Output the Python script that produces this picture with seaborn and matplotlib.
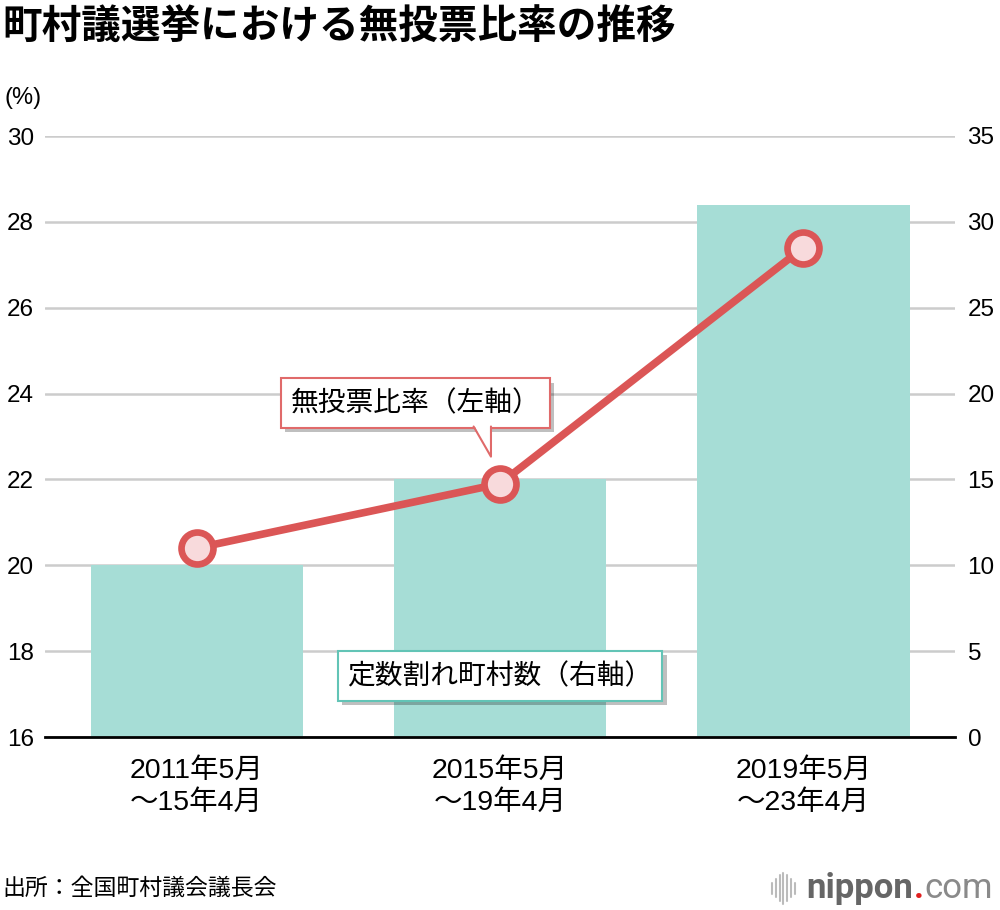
import matplotlib
matplotlib.use('Agg')
import matplotlib.pyplot as plt
import matplotlib.patheffects as pe
import matplotlib.transforms as mtransforms
from matplotlib.lines import Line2D
from matplotlib.patches import Polygon
import seaborn as sns
import pandas as pd

sns.set_theme(style='white')
plt.rcParams['font.family'] = ['Noto Sans CJK JP', 'DejaVu Sans']
num_font = ['Liberation Sans', 'Noto Sans CJK JP']

# data
periods = ['2011年5月\n～15年4月', '2015年5月\n～19年4月', '2019年5月\n～23年4月']
town_counts = [10, 15, 31]          # 定数割れ町村数 (right axis)
uncontested_rate = [20.4, 21.9, 27.4]  # 無投票比率 % (left axis)
left_ticks = [16, 18, 20, 22, 24, 26, 28, 30]
right_ticks = [0, 5, 10, 15, 20, 25, 30, 35]

bar_color = '#a6ddd6'
line_color = '#db5656'
marker_face = '#f8dadc'
red_edge = '#e06a6a'

df = pd.DataFrame({'period': periods, 'count': town_counts, 'rate': uncontested_rate})

fig = plt.figure(figsize=(10, 9.1), dpi=100)
ax = fig.add_axes([0.045, 1 - 737 / 910, 0.91, (737 - 136) / 910])

# bars on the right-hand scale
sns.barplot(data=df, x='period', y='count', ax=ax, color=bar_color,
            saturation=1, width=0.7, linewidth=0, edgecolor=bar_color)
ax.set_ylim(0, 35)
ax.set_axisbelow(True)
ax.yaxis.grid(True, color='#cccccc', lw=1.8)
ax.set_xlabel('')
ax.set_ylabel('')
for s in ['top', 'left', 'right']:
    ax.spines[s].set_visible(False)
ax.spines['bottom'].set_color('black')
ax.spines['bottom'].set_linewidth(2)

# line on the left-hand scale
ax2 = ax.twinx()
sns.pointplot(data=df, x='period', y='rate', ax=ax2, color=line_color,
              markers='o', markersize=23, linewidth=5.5)
for ln in ax2.lines:
    ln.set_markerfacecolor(marker_face)
    ln.set_markeredgecolor(line_color)
    ln.set_markeredgewidth(4.8)
    ln.set_zorder(5)
ax2.set_ylim(16, 30)
ax2.set_xlim(-0.5, 2.5)
ax2.set_xlabel('')
ax2.set_ylabel('')
for s in ['top', 'left', 'right', 'bottom']:
    ax2.spines[s].set_visible(False)
ax2.grid(False)

# twinx moves ticks around, so set sides afterwards
ax.yaxis.tick_right()
ax2.yaxis.tick_left()
ax.tick_params(axis='y', length=0, pad=9, labelcolor='black')
ax.tick_params(axis='x', length=0, pad=15, labelcolor='black')
ax2.tick_params(axis='y', length=0, pad=8, labelcolor='black')
ax.set_yticks(right_ticks, [str(v) for v in right_ticks], family=num_font, fontsize=17.5, ha='left')
ax2.set_yticks(left_ticks, [str(v) for v in left_ticks], family=num_font, fontsize=17.5, ha='right')
ax.set_xticks(range(len(periods)), periods, family=num_font, fontsize=20.5, linespacing=1.3)

# callout for the line (box + pointer tail)
red_box = ax2.annotate('無投票比率（左軸）', xy=(1, uncontested_rate[1]),
                       xytext=(-61, 58), textcoords='offset points',
                       ha='center', va='center', fontsize=20, color='black',
                       bbox=dict(boxstyle='square,pad=0.35', fc='white', ec=red_edge, lw=1.5),
                       zorder=6)
red_box.get_bbox_patch().set_path_effects(
    [pe.withSimplePatchShadow(offset=(3, -3), shadow_rgbFace='black', alpha=0.25)])

# tail vertices in points, relative to the 2015 point
tail_trans = fig.dpi_scale_trans + mtransforms.ScaledTranslation(1, uncontested_rate[1], ax2.transData)
tl, tr, tip_y, top_y = -19 / 72, -6.5 / 72, 19.5 / 72, 41.2 / 72
ax2.add_patch(Polygon([(tl, top_y + 0.01), (tr, top_y + 0.01), (tr, tip_y)], closed=True,
                      fc='white', ec='none', transform=tail_trans, zorder=7, clip_on=False))
ax2.add_line(Line2D([tl, tr, tr], [top_y, tip_y, top_y], color=red_edge, lw=1.5,
                    transform=tail_trans, zorder=7, clip_on=False))

# callout for the bars
teal_box = ax.text(1.0, 3.55, '定数割れ町村数（右軸）', ha='center', va='center',
                   fontsize=20, color='black', zorder=6,
                   bbox=dict(boxstyle='square,pad=0.35', fc='white', ec='#62c4b6', lw=1.5))
teal_box.get_bbox_patch().set_path_effects(
    [pe.withSimplePatchShadow(offset=(3, -3), shadow_rgbFace='black', alpha=0.25)])

# titles and notes
fig.text(0.002, 0.970, '町村議選挙における無投票比率の推移', fontsize=28.5,
         fontweight='bold', va='center', ha='left', color='black')
fig.text(0.004, 0.892, '(%)', fontsize=17, va='center', ha='left', color='black',
         family=num_font)
fig.text(0.002, 0.024, '出所：全国町村議会議長会', fontsize=16.5, va='center', ha='left',
         color='black')

# nippon.com logo
for i, h in enumerate([0.012, 0.020, 0.028, 0.034, 0.028, 0.020, 0.012]):
    x = 0.772 + i * 0.0038
    fig.add_artist(Line2D([x, x], [0.024 - h / 2, 0.024 + h / 2], color='#bbbbbb', lw=1.5))
renderer = fig.canvas.get_renderer()
logo_x = 0.806
for part, col, wt in [('nippon', '#666666', 'bold'), ('.', '#e02020', 'bold'), ('com', '#8a8a8a', 'normal')]:
    t = fig.text(logo_x, 0.024, part, fontsize=25, fontweight=wt, color=col,
                 family='Roboto', va='center', ha='left')
    bb = t.get_window_extent(renderer)
    logo_x = (bb.x1 + 1) / fig.bbox.width

fig.savefig('out.png', dpi=100)
